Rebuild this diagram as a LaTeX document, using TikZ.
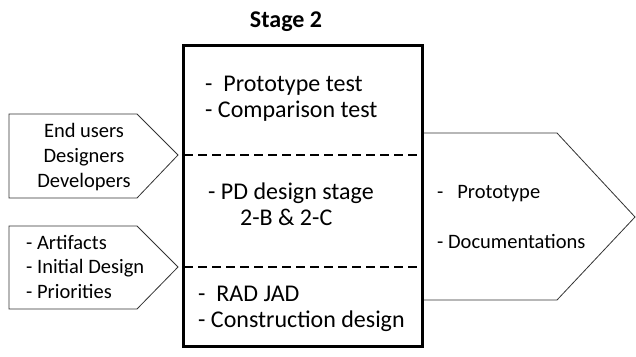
\documentclass[tikz,border=0pt]{standalone}
\usepackage{fontspec}
\setmainfont{Carlito}

\begin{document}
\begin{tikzpicture}[x=1pt,y=-1pt,
	txt/.style={inner sep=0pt, align=left, font=\fontsize{24}{26}\selectfont},
	sidetxt/.style={txt, font=\fontsize{20.5}{25}\selectfont},
	arrowbox/.style={draw=black!80, line width=0.8pt}]
	\useasboundingbox (0,0) rectangle (636,356);

	% input and output arrows
	\draw[arrowbox] (9,114) -- (137,114) -- (178,155) -- (137,198) -- (9,198) -- cycle;
	\draw[arrowbox] (9,226) -- (137,226) -- (178,267) -- (137,309) -- (9,309) -- cycle;
	\draw[arrowbox] (422,133) -- (557,133) -- (635,217) -- (557,300) -- (422,300);

	% stage box
	\filldraw[fill=white, draw=black, line width=3pt] (183,45) rectangle (422,346);
	\draw[line width=2pt, dash pattern=on 9pt off 5pt] (184,155) -- (421,155);
	\draw[line width=2pt, dash pattern=on 9pt off 5pt] (184,267) -- (421,267);

	\node[txt, font=\fontsize{24}{26}\selectfont\bfseries, anchor=base] (title) at (286,27) {Stage 2};

	\node[txt, anchor=base west] (tests) at (205,117) {-\ \ Prototype test\\- Comparison test};
	\node[txt, anchor=base west] (pd) at (208,225) {- PD design stage\\\hspace{32pt}2-B \& 2-C};
	\node[txt, anchor=base west] (rad) at (198,327) {-\ \ RAD JAD\\- Construction design};

	\node[sidetxt, align=center, anchor=base] (who) at (84,187) {End users\\Designers\\Developers};
	\node[sidetxt, font=\fontsize{20.5}{24.5}\selectfont, anchor=base west] (inputs) at (26,298) {- Artifacts\\- Initial Design\\- Priorities};

	\node[sidetxt, anchor=base west] (outputs) at (437,248) {-\ \ \ Prototype\\[25pt]- Documentations};
\end{tikzpicture}
\end{document}
